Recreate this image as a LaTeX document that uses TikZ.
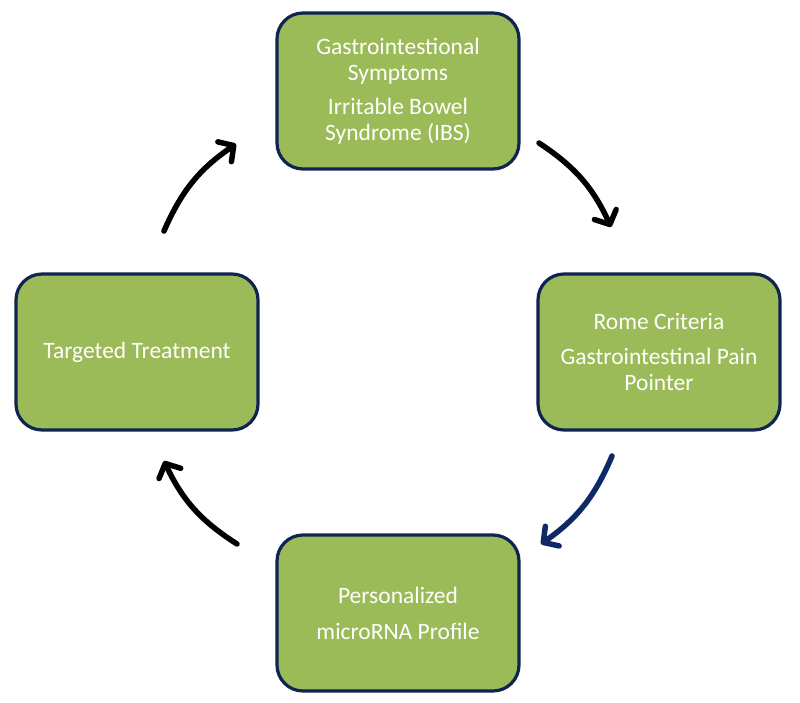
\documentclass[tikz,border=0pt]{standalone}
\usepackage{fontspec}
\setmainfont{Carlito}
\usetikzlibrary{arrows.meta}
\definecolor{boxfill}{HTML}{9BBB59}
\definecolor{boxline}{HTML}{102452}
\definecolor{navyarrow}{HTML}{0E2A66}
\tikzset{
  stagebox/.style={draw=boxline, line width=3.2pt, fill=boxfill, rounded corners=26pt,
    minimum width=242pt, minimum height=156pt, text=white, align=center,
    font=\fontsize{23.5}{26}\selectfont, inner sep=0pt},
  cyclearrow/.style={line width=5.5pt, line cap=round,
    -{Straight Barb[length=11pt,width=24pt,line cap=round,line join=round]}, bend left=16}
}
\begin{document}
\begin{tikzpicture}[x=1pt,y=-1pt]
\useasboundingbox (0,0) rectangle (800,703);
\node[stagebox] (top) at (398,91) {Gastrointestional\\Symptoms\\[8pt]Irritable Bowel\\Syndrome (IBS)};
\node[stagebox] (right) at (659,352) {Rome Criteria\\[9pt]Gastrointestinal Pain\\Pointer};
\node[stagebox] (bottom) at (398,613) {Personalized\\[10pt]microRNA Profile};
\node[stagebox] (left) at (137,352) {Targeted Treatment};
\coordinate (a1s) at (539,143);
\coordinate (a1e) at (611,227);
\coordinate (a2s) at (612,456);
\coordinate (a2e) at (541,544);
\coordinate (a3s) at (237,544);
\coordinate (a3e) at (164,461);
\coordinate (a4s) at (164,231);
\coordinate (a4e) at (236,144);
\draw[cyclearrow, black] (a1s) to (a1e);
\draw[cyclearrow, navyarrow] (a2s) to (a2e);
\draw[cyclearrow, black] (a3s) to (a3e);
\draw[cyclearrow, black] (a4s) to (a4e);
\end{tikzpicture}
\end{document}
